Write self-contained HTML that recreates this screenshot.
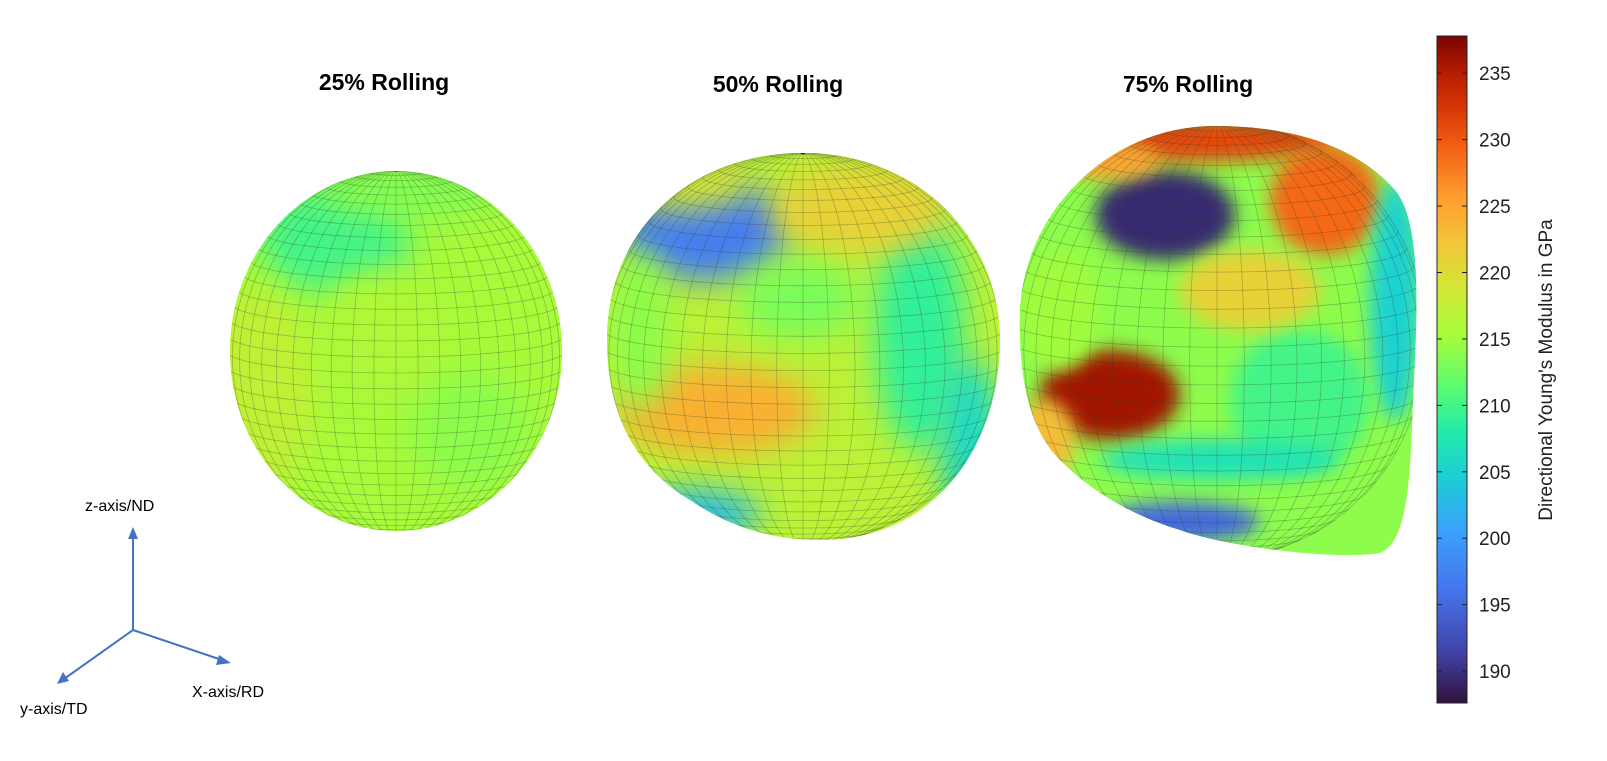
<!DOCTYPE html>
<html><head><meta charset="utf-8"><style>
body{margin:0;background:#fff;}
svg{display:block;font-family:"Liberation Sans",Arial,sans-serif;}
</style></head><body>
<svg id="fig" width="1607" height="761" viewBox="0 0 1607 761">
<defs>
<linearGradient id="cbar" x1="0" y1="1" x2="0" y2="0"></linearGradient>
<filter id="blur1" x="-50%" y="-50%" width="200%" height="200%"><feGaussianBlur stdDeviation="16"/></filter>
<filter id="blur2" x="-50%" y="-50%" width="200%" height="200%"><feGaussianBlur stdDeviation="9"/></filter>
<clipPath id="c1"><ellipse cx="396" cy="351" rx="166" ry="180"/></clipPath>
<clipPath id="c2"><path d="M803,153 C920,153 1000,240 1000,340 C1000,440 940,540 820,540 C760,540 720,520 690,500 C640,470 607,420 607,340 C607,230 690,153 803,153Z"/></clipPath>
<clipPath id="c3"><path d="M1215,126 C1300,126 1360,150 1395,190 C1420,220 1418,300 1414,380 C1410,460 1412,540 1380,553 C1340,560 1230,548 1180,530 C1130,515 1090,490 1060,460 C1030,430 1018,380 1020,310 C1025,210 1110,126 1215,126Z"/></clipPath>
</defs>
<g><text x="384" y="90" font-size="23" font-weight="bold" text-anchor="middle">25% Rolling</text></g>
<g><text x="778" y="92" font-size="23" font-weight="bold" text-anchor="middle">50% Rolling</text></g>
<g><text x="1188" y="92" font-size="23" font-weight="bold" text-anchor="middle">75% Rolling</text></g>
<g id="spheres"></g>
<g id="cb"></g>
<g stroke="#4472c4" stroke-width="2" fill="#4472c4">
<line x1="133" y1="630" x2="133" y2="535"/><polygon points="133,527 128,539 138,539" stroke="none"/>
<line x1="133" y1="630" x2="222" y2="660"/><polygon points="231,663 219,655 216,665" stroke="none"/>
<line x1="133" y1="630" x2="64" y2="679"/><polygon points="57,684 63,672 69,681" stroke="none"/>
</g>
<text x="85" y="511" font-size="16">z-axis/ND</text>
<text x="192" y="697" font-size="16">X-axis/RD</text>
<text x="20" y="714" font-size="16">y-axis/TD</text>
</svg>
<script>
const cbTicks=[190,195,200,205,210,215,220,225,230,235];
const cbMin=187.6, cbMax=237.8;
const turboVals=[0,0.08,0.17,0.26,0.34,0.41,0.48,0.55,0.62,0.69,0.76,0.83,0.89,0.95,1];
const turboCols=["#30123b","#4145ab","#4675ed","#39a2fc","#1bcfd4","#24eca6","#61fc6c","#a4fc3b","#d1e834","#f3c63a","#fe9b2d","#f36315","#d93806","#b11901","#7a0403"];
// sphere patches: [sphere, x, y, rx, ry, modulus]
const s1Base=215.5;
const s1Patches=[[1,335,240,75,55,210],[1,255,390,60,100,217.5],[1,470,430,60,60,214],[1,410,190,90,30,213.5],[1,380,330,60,60,216]];
const s2Base=217;
const s2Patches=[[2,705,230,85,50,197],[2,715,410,100,45,224],[2,690,515,70,25,203],[2,920,330,45,120,209],[2,860,210,90,45,221],[2,680,180,70,30,219],[2,640,330,30,80,214],[2,970,440,30,80,206],[2,800,300,60,40,213]];
const s3Base=214;
const s3Patches=[[3,1165,215,70,45,189.5],[3,1110,395,70,45,236],[3,1200,140,140,22,231],[3,1325,200,55,55,229],[3,1180,522,80,20,195],[3,1395,300,25,120,205],[3,1300,400,70,70,210],[3,1060,310,40,60,215],[3,1250,290,70,40,221],[3,1045,440,30,40,223],[3,1110,160,50,20,225],[3,1220,460,120,20,207]];
const NS="http://www.w3.org/2000/svg";
function mk(t,a,p){const e=document.createElementNS(NS,t);for(const k in a)e.setAttribute(k,a[k]);p.appendChild(e);return e;}
function colorOf(v){let t=(v-cbMin)/(cbMax-cbMin);t=Math.max(0,Math.min(1,t));
for(let i=1;i<turboVals.length;i++){if(t<=turboVals[i]){const f=(t-turboVals[i-1])/(turboVals[i]-turboVals[i-1]);const a=turboCols[i-1],b=turboCols[i];
const c=[1,3,5].map(j=>Math.round(parseInt(a.substr(j,2),16)*(1-f)+parseInt(b.substr(j,2),16)*f));return `rgb(${c})`;}}return turboCols[turboCols.length-1];}
const grad=document.getElementById('cbar');
turboVals.forEach((v,i)=>mk('stop',{offset:v,'stop-color':turboCols[i]},grad));
const cbTop=36,cbBot=703,cbX=1437,cbW=30;
function yScale(v){return cbBot-(v-cbMin)/(cbMax-cbMin)*(cbBot-cbTop);}
const cb=document.getElementById('cb');
const bar=mk('rect',{x:cbX,y:cbTop,width:cbW,height:cbBot-cbTop,fill:'url(#cbar)',stroke:'#222','stroke-width':1},cb);


cbTicks.forEach(v=>{const y=yScale(v);
mk('line',{x1:cbX,x2:cbX+5,y1:y,y2:y,stroke:'#222'},cb);mk('line',{x1:cbX+cbW-5,x2:cbX+cbW,y1:y,y2:y,stroke:'#222'},cb);
const t=mk('text',{x:cbX+42,y:y+7,'font-size':19,fill:'#222'},cb);t.textContent=v;

});
const lab=mk('text',{x:1552,y:370,'font-size':19,fill:'#222','text-anchor':'middle',transform:'rotate(-90 1552 370)'},cb);
lab.textContent="Directional Young's Modulus in GPa";


const sp=document.getElementById('spheres');
const spheres=[{id:1,base:s1Base,patches:s1Patches,cx:396,cy:351,rx:166,ry:180},
{id:2,base:s2Base,patches:s2Patches,cx:803,cy:347,rx:197,ry:193},
{id:3,base:s3Base,patches:s3Patches,cx:1217,cy:340,rx:205,ry:214}];
const el=0.12;
spheres.forEach(s=>{const g=mk('g',{'clip-path':`url(#c${s.id})`},sp);


mk('rect',{x:s.cx-260,y:s.cy-260,width:520,height:520,fill:colorOf(s.base)},g);
s.patches.forEach(p=>{mk('ellipse',{cx:p[1],cy:p[2],rx:p[3],ry:p[4],fill:colorOf(p[5]),filter:s.id==3?'url(#blur2)':'url(#blur1)'},g);});
const gl=mk('g',{stroke:'#2a3a2a','stroke-opacity':0.3,'stroke-width':0.8,fill:'none'},g);
function P(lat,lon){const x=s.cx+s.rx*1.02*Math.cos(lat)*Math.sin(lon);
const y=s.cy-s.ry*1.02*(Math.sin(lat)*Math.cos(el)-Math.cos(lat)*Math.cos(lon)*Math.sin(el));
const vis=Math.cos(lat)*Math.cos(lon)*Math.cos(el)+Math.sin(lat)*Math.sin(el);return [x,y,vis];}
function draw(pts){let d='',pen=false;pts.forEach(p=>{if(p[2]>=0){d+=(pen?'L':'M')+p[0].toFixed(1)+','+p[1].toFixed(1);pen=true;}else pen=false;});if(d)mk('path',{d},gl);}
for(let k=1;k<36;k++){const lat=-Math.PI/2+k*Math.PI/36;const pts=[];for(let j=0;j<=90;j++)pts.push(P(lat,-Math.PI+j*2*Math.PI/90));draw(pts);}
for(let k=0;k<48;k++){const lon=k*2*Math.PI/48;const pts=[];for(let j=0;j<=60;j++)pts.push(P(-Math.PI/2+j*Math.PI/60,lon));draw(pts);}
const pp=P(Math.PI/2,0);mk('circle',{cx:pp[0],cy:pp[1],r:3,fill:'#222'},g);
});
</script>
</body></html>
